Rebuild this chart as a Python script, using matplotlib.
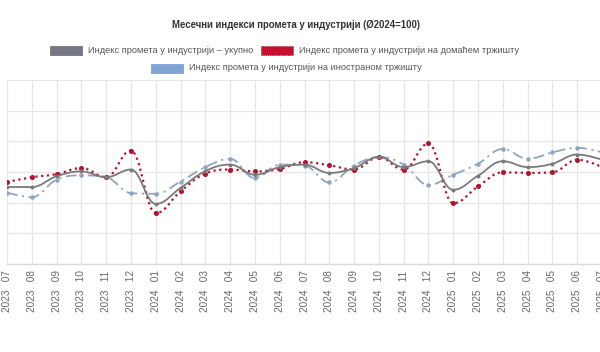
import matplotlib
matplotlib.use("Agg")
import matplotlib.pyplot as plt
from matplotlib.path import Path
from matplotlib.patches import PathPatch, Rectangle
import numpy as np

plt.rcParams['font.family'] = ['Liberation Sans', 'DejaVu Sans']

years = ["2023"] * 6 + ["2024"] * 12 + ["2025"] * 7
months = ["07", "08", "09", "10", "11", "12",
          "01", "02", "03", "04", "05", "06", "07", "08", "09", "10", "11", "12",
          "01", "02", "03", "04", "05", "06", "07"]
tick_labels = [f"{y}   {m}" for y, m in zip(years, months)]

total = [95.1, 95.1, 98.6, 100.2, 98.3, 100.8, 89.6, 94.8, 100.3, 102.4, 99.1, 101.6,
         102.4, 99.7, 101.3, 104.9, 101.6, 103.5, 94.2, 98.8, 103.5, 101.6, 102.7, 105.7, 104.0]
domestic = [96.7, 98.3, 99.3, 101.3, 98.3, 107.0, 86.6, 93.7, 99.5, 100.8, 100.2, 101.0,
            103.2, 102.2, 100.8, 104.9, 100.8, 109.3, 89.8, 95.3, 99.9, 99.7, 99.9, 104.0, 101.6]
foreign = [93.3, 91.8, 97.5, 98.9, 98.3, 93.1, 92.9, 96.9, 101.6, 104.3, 98.0, 102.4,
           102.1, 96.6, 102.1, 104.9, 102.4, 95.8, 99.1, 102.7, 107.5, 104.3, 106.4, 107.9, 106.4]

names = ["Индекс промета у индустрији – укупно",
         "Индекс промета у индустрији на домаћем тржишту",
         "Индекс промета у индустрији на иностраном тржишту"]
title = "Месечни индекси промета у индустрији (Ø2024=100)"

y_ticks = [70, 80, 90, 100, 110, 120, 130]


def hc_spline_path(xs, ys, smoothing=1.5):
    n = len(xs)
    denom = smoothing + 1
    lc = [(xs[i], ys[i]) for i in range(n)]
    rc = [(xs[i], ys[i]) for i in range(n)]
    for i in range(1, n - 1):
        px, py = xs[i], ys[i]
        lx, ly = xs[i - 1], ys[i - 1]
        nx, ny = xs[i + 1], ys[i + 1]
        lcx = (smoothing * px + lx) / denom
        lcy = (smoothing * py + ly) / denom
        rcx = (smoothing * px + nx) / denom
        rcy = (smoothing * py + ny) / denom
        corr = 0.0
        if rcx != lcx:
            corr = (rcy - lcy) * (rcx - px) / (rcx - lcx) + py - rcy
        lcy += corr
        rcy += corr
        if lcy > ly and lcy > py:
            lcy = max(ly, py)
            rcy = 2 * py - lcy
        elif lcy < ly and lcy < py:
            lcy = min(ly, py)
            rcy = 2 * py - lcy
        if rcy > ny and rcy > py:
            rcy = max(ny, py)
            lcy = 2 * py - rcy
        elif rcy < ny and rcy < py:
            rcy = min(ny, py)
            lcy = 2 * py - rcy
        lc[i] = (lcx, lcy)
        rc[i] = (rcx, rcy)
    verts = [(xs[0], ys[0])]
    codes = [Path.MOVETO]
    for i in range(1, n):
        verts += [rc[i - 1], lc[i], (xs[i], ys[i])]
        codes += [Path.CURVE4] * 3
    return Path(verts, codes)


fig = plt.figure(figsize=(6, 3.52), dpi=100)
W, H = 600, 352
ax = fig.add_axes([7 / W, (H - 264) / H, 595 / W, (264 - 80) / H])

x = np.arange(len(tick_labels))
ax.set_xlim(0, len(tick_labels) - 1)
ax.set_ylim(y_ticks[0], y_ticks[-1])
ax.set_yticks(y_ticks)
ax.set_xticks(x)
ax.set_xticklabels(tick_labels, rotation=90, fontsize=7.2, color='#666666')
ax.tick_params(axis='x', length=0, pad=4.5)
ax.tick_params(axis='y', length=0, labelleft=False)
ax.grid(True, color='#e6e6e6', lw=0.9)
ax.set_axisbelow(True)
for s in ['top', 'right', 'left']:
    ax.spines[s].set_visible(False)
ax.spines['bottom'].set_color('#d9d9d9')
ax.spines['bottom'].set_linewidth(1)

styles = [
    dict(color='#7a7a7a', lw=1.3, ls='-', mcol='#7a7a7a', ms=1.8),
    dict(color='#b5142e', lw=1.6, ls=(0, (1, 1.6)), mcol='#b5142e', ms=2.6),
    dict(color='#8ea5c0', lw=1.3, ls=(0, (6, 2.5, 1.2, 2.5)), mcol='#8ea5c0', ms=2.2),
]
series = [total, domestic, foreign]
order = [2, 1, 0]
for k in order:
    st = styles[k]
    path = hc_spline_path(list(x.astype(float)), series[k])
    ax.add_patch(PathPatch(path, facecolor='none', edgecolor=st['color'], lw=st['lw'],
                           ls=st['ls'], zorder=3 + (2 - k)))
    ax.plot(x, series[k], ls='none', marker='o', ms=st['ms'], color=st['mcol'],
            mec=st['mcol'], zorder=4 + (2 - k))

# title
fig.text(296 / W, 1 - 25 / H, title, ha='center', va='center', fontsize=6.95,
         fontweight='bold', color='#333333')

# legend
def leg(x0, yc, face, edge, label, dotted=False):
    r = Rectangle((x0 / W, 1 - (yc + 4.5) / H), 32 / W, 9 / H, transform=fig.transFigure,
                  facecolor=face, edgecolor=edge, lw=0.6, ls=':' if dotted else '-')
    fig.patches.append(r)
    fig.text((x0 + 38) / W, 1 - yc / H, label, ha='left', va='center', fontsize=6.7,
             color='#555555')

leg(50, 50.5, '#767583', '#767583', names[0])
leg(261, 50.5, '#c8102e', '#8a0a1e', names[1], dotted=True)
leg(151, 68, '#7ea3d4', '#7ea3d4', names[2])

fig.savefig('out.png', dpi=100)
